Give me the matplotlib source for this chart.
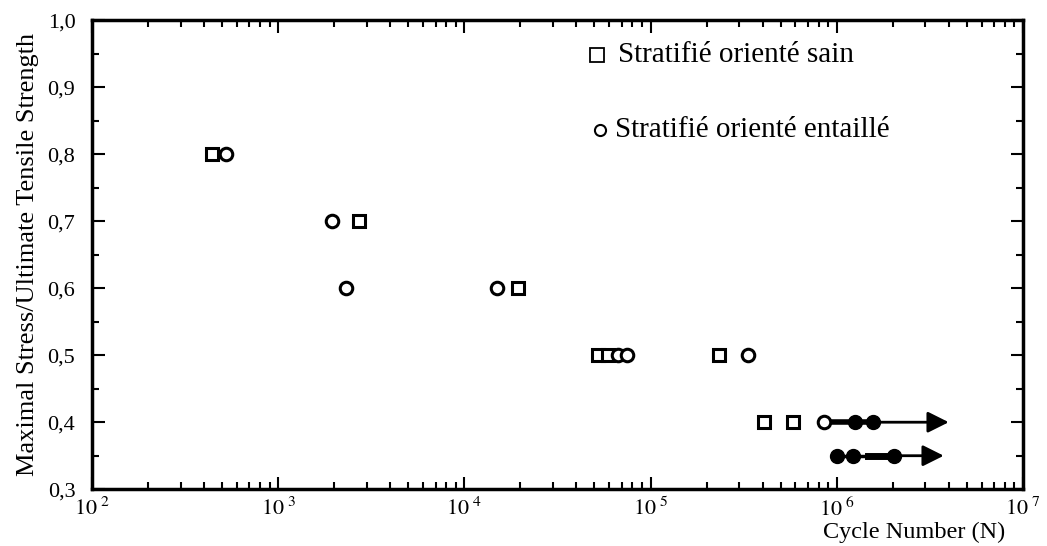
import numpy as np
import matplotlib.pyplot as plt
from matplotlib.ticker import FuncFormatter, LogLocator, MultipleLocator

plt.rcParams['font.family'] = ['Liberation Serif', 'DejaVu Serif']
plt.rcParams['mathtext.fontset'] = 'stix'

# fatigue results: cycles to failure at each stress level
sain_N = [441, 2720, 19500, 52500, 59400, 232000, 405000, 580000]
sain_S = [0.8, 0.7, 0.6, 0.5, 0.5, 0.5, 0.4, 0.4]

entaille_N = [525, 1950, 2320, 15000, 66500, 75200, 333000, 851000]
entaille_S = [0.8, 0.7, 0.6, 0.6, 0.5, 0.5, 0.5, 0.4]

# run-outs (no failure), continued by an arrow
runout1_N = [1.26e6, 1.56e6]
runout1_S = 0.4
runout1_end = 4.0e6
runout2_N = [1.01e6, 1.23e6, 2.02e6]
runout2_S = 0.35
runout2_end = 3.76e6

fig = plt.figure(figsize=(10.47, 5.46), dpi=100)
ax = fig.add_axes([0.0879, 0.104, 0.889, 0.859])

ax.set_xscale('log')
ax.set_xlim(1e2, 1e7)
ax.set_ylim(0.3, 1.0)

mk = dict(linestyle='none', color='black', markerfacecolor='white',
          markersize=9, markeredgewidth=2.2, zorder=3)
ax.plot(sain_N, sain_S, marker='s', **mk)
ax.plot(entaille_N, entaille_S, marker='o', **mk)

# run-out row at 0.4: thick bar from last failure through the run-outs
ax.plot([entaille_N[-1], runout1_N[-1]], [runout1_S] * 2, color='black', lw=4, zorder=2)
ax.plot(runout1_N, [runout1_S] * len(runout1_N), 'o', color='black', markersize=10, zorder=3)
ax.annotate('', xy=(runout1_end, runout1_S), xytext=(runout1_N[-1], runout1_S),
            arrowprops=dict(arrowstyle='-|>', color='black', lw=2, mutation_scale=32,
                            shrinkA=0, shrinkB=0))

# run-out row below
ax.plot([runout2_N[0], runout2_N[-1]], [runout2_S] * 2, color='black', lw=2.5, zorder=2)
ax.plot([runout2_N[1] * 1.2, runout2_N[-1]], [runout2_S] * 2, color='black', lw=5, zorder=2)
ax.plot(runout2_N, [runout2_S] * len(runout2_N), 'o', color='black', markersize=10, zorder=3)
ax.annotate('', xy=(runout2_end, runout2_S), xytext=(runout2_N[-1], runout2_S),
            arrowprops=dict(arrowstyle='-|>', color='black', lw=2, mutation_scale=32,
                            shrinkA=0, shrinkB=0))

# axes styling
for sp in ax.spines.values():
    sp.set_linewidth(2.5)

ax.xaxis.set_major_locator(LogLocator(base=10, numticks=10))
ax.xaxis.set_minor_locator(LogLocator(base=10, subs=np.arange(2, 10), numticks=20))
ax.xaxis.set_major_formatter(FuncFormatter(lambda v, p: r'$10^{\ %d}$' % round(np.log10(v))))
ax.yaxis.set_major_locator(MultipleLocator(0.1))
ax.yaxis.set_minor_locator(MultipleLocator(0.05))
ax.yaxis.set_major_formatter(FuncFormatter(lambda v, p: ('%.1f' % v).replace('.', ',')))

ax.tick_params(which='both', direction='in', top=True, right=True, width=1.5)
ax.tick_params(which='major', length=9)
ax.tick_params(which='minor', length=5)
ax.tick_params(axis='y', labelsize=16, pad=12)
ax.tick_params(axis='x', labelsize=16, pad=6)

ax.set_ylabel('Maximal Stress/Ultimate Tensile Strength', fontsize=19, labelpad=6)
fig.text(0.873, 0.024, 'Cycle Number (N)', fontsize=17.5, ha='center', va='center')

# legend drawn as markers plus text
ax.plot([0.542], [0.925], 's', transform=ax.transAxes, color='black',
        markerfacecolor='white', markersize=10, markeredgewidth=1.3, clip_on=False)
ax.text(0.565, 0.925, 'Stratifié orienté sain', transform=ax.transAxes,
        fontsize=21, va='center', ha='left')
ax.plot([0.546], [0.765], 'o', transform=ax.transAxes, color='black',
        markerfacecolor='white', markersize=8, markeredgewidth=1.5, clip_on=False)
ax.text(0.562, 0.765, 'Stratifié orienté entaillé', transform=ax.transAxes,
        fontsize=21, va='center', ha='left')

fig.savefig('out.png', dpi=100)
